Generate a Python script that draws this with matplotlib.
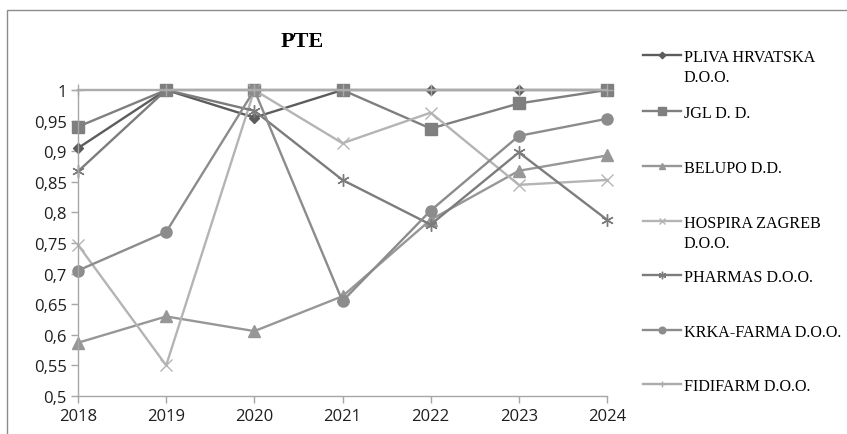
import matplotlib.pyplot as plt
from matplotlib.patches import Rectangle
from matplotlib.ticker import FuncFormatter, MultipleLocator
import numpy as np

years = [2018, 2019, 2020, 2021, 2022, 2023, 2024]

pliva = [0.905, 1.0, 0.955, 1.0, 1.0, 1.0, 1.0]
jgl = [0.940, 1.0, 1.0, 1.0, 0.937, 0.978, 1.0]
belupo = [0.587, 0.630, 0.606, 0.663, 0.788, 0.868, 0.893]
hospira = [0.747, 0.550, 1.0, 0.913, 0.963, 0.845, 0.853]
pharmas = [0.867, 1.0, 0.966, 0.853, 0.780, 0.898, 0.788]
krka = [0.705, 0.768, 1.0, 0.655, 0.803, 0.925, 0.953]
fidifarm = [1.0, 1.0, 1.0, 1.0, 1.0, 1.0, 1.0]

names = ["PLIVA HRVATSKA\nD.O.O.", "JGL D. D.", "BELUPO D.D.",
         "HOSPIRA ZAGREB\nD.O.O.", "PHARMAS D.O.O.", "KRKA-FARMA D.O.O.",
         "FIDIFARM D.O.O."]
series = [pliva, jgl, belupo, hospira, pharmas, krka, fidifarm]

# style per series: colour, marker, marker size
styles = [
    ("#5c5c5c", "D", 5.5),
    ("#7f7f7f", "s", 8.5),
    ("#979797", "^", 8),
    ("#b4b4b4", "x", 8),
    ("#7c7c7c", (6, 2, 0), 9),
    ("#8c8c8c", "o", 8),
    ("#ababab", "+", 8),
]

fig = plt.figure(figsize=(8.47, 4.35), dpi=100)
ax = fig.add_axes([78 / 847, 1 - 397 / 435, (607 - 78) / 847, (397 - 91) / 435])

handles = []
for vals, (col, mk, ms) in zip(series, styles):
    h, = ax.plot(years, vals, color=col, lw=1.7, marker=mk, markersize=ms,
                 markerfacecolor=col, markeredgecolor=col, markeredgewidth=1.0,
                 clip_on=False)
    handles.append(h)

ax.set_xlim(2018, 2024)
ax.set_ylim(0.5, 1.0)
ax.set_xticks(years)
ax.yaxis.set_major_locator(MultipleLocator(0.05))
ax.yaxis.set_major_formatter(FuncFormatter(lambda v, p: f"{round(v, 2):g}".replace(".", ",")))

for s in ["top", "right"]:
    ax.spines[s].set_visible(False)
for s in ["left", "bottom"]:
    ax.spines[s].set_color("#a6a6a6")
    ax.spines[s].set_linewidth(1.0)
ax.tick_params(axis="both", color="#a6a6a6", length=5, width=1.0,
               labelsize=12, labelcolor="#1e1e1e")
ax.tick_params(axis="x", pad=4)
ax.tick_params(axis="y", pad=3)
for lab in ax.get_xticklabels() + ax.get_yticklabels():
    lab.set_family("Open Sans")

fig.text(302 / 847, 1 - 42 / 435, "PTE", family="Liberation Serif",
         fontsize=16, fontweight="bold", ha="center", va="center")

# legend, one entry per row so the handle sits on the first text line
rows = [58, 114, 169, 224, 278, 333, 387]
for h, name, yy in zip(handles, names, rows):
    lines = name.split("\n")
    fig.legend([h], [lines[0]], loc="center left",
               bbox_to_anchor=(643 / 847, 1 - yy / 435), frameon=False,
               borderpad=0, borderaxespad=0, handlelength=2.35,
               handletextpad=0.2, markerscale=0.6,
               prop={"family": "Liberation Serif", "size": 11.6})
    if len(lines) > 1:
        fig.text(683 / 847, 1 - (yy + 20) / 435, lines[1],
                 family="Liberation Serif", fontsize=11.6, va="center")

fig.patches.append(Rectangle((7 / 847, -0.01), 1.0, 1 - 11 / 435 + 0.01,
                             transform=fig.transFigure, fill=False,
                             edgecolor="#8c8c8c", lw=1.0))

fig.savefig("out.png", dpi=100)
